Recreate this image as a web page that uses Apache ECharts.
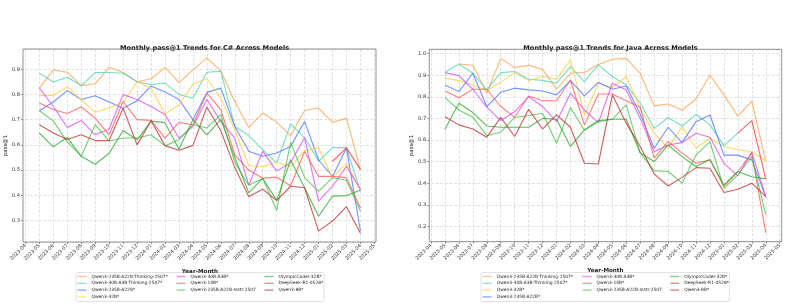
<!DOCTYPE html>
<html><head><meta charset="utf-8">
<script src="https://cdn.jsdelivr.net/npm/echarts@6/dist/echarts.min.js"></script>
<style>html,body{margin:0;padding:0;background:#fff}#c{width:793px;height:308px}</style>
</head><body><div id="c"></div><script>
const months = ['2023-04','2023-05','2023-06','2023-07','2023-08','2023-09','2023-10','2023-11','2023-12',
  '2024-01','2024-02','2024-03','2024-04','2024-05','2024-06','2024-07','2024-08','2024-09','2024-10','2024-11','2024-12',
  '2025-01','2025-02','2025-03','2025-04','2025-05'];

const N_THINK = 'Qwen3-235B-A22B-Thinking-2507*';
const N_THINK30 = 'Qwen3-30B-A3B-Thinking-2507*';
const N_235 = 'Qwen3-235B-A22B*';
const N_32 = 'Qwen3-32B*';
const N_30 = 'Qwen3-30B-A3B*';
const N_14 = 'Qwen3-14B*';
const N_INSTR = 'Qwen3-235B-A22B-Instr-2507';
const N_OLY = 'OlympicCoder-32B*';
const N_DS = 'DeepSeek-R1-0528*';
const N_8 = 'Qwen3-8B*';

// C# values, 2023-05 .. 2025-04
const csThinking = [0.825,0.897,0.888,0.835,0.842,0.908,0.887,0.850,0.862,0.907,0.847,0.897,0.945,0.892,0.772,0.669,0.726,0.690,0.636,0.736,0.746,0.689,0.706,0.502];
const csThinking30 = [0.884,0.849,0.868,0.834,0.887,0.887,0.884,0.851,0.838,0.845,0.800,0.785,0.888,0.892,0.673,0.637,0.581,0.528,0.683,0.628,0.535,0.589,0.589,0.416];
const cs235 = [0.735,0.770,0.815,0.780,0.795,0.770,0.745,0.775,0.833,0.810,0.780,0.700,0.808,0.825,0.673,0.575,0.555,0.568,0.594,0.693,0.540,0.475,0.588,0.258];
const cs32 = [0.795,0.796,0.831,0.779,0.729,0.746,0.768,0.850,0.825,0.722,0.759,0.840,0.862,0.785,0.660,0.518,0.513,0.531,0.513,0.577,0.588,0.470,0.528,0.423];
const cs30 = [0.825,0.752,0.669,0.697,0.640,0.663,0.800,0.780,0.752,0.720,0.627,0.673,0.780,0.693,0.627,0.440,0.575,0.496,0.530,0.628,0.377,0.436,0.515,0.423];
const cs14 = [0.766,0.740,0.724,0.750,0.706,0.640,0.772,0.700,0.697,0.627,0.689,0.680,0.805,0.740,0.560,0.500,0.468,0.472,0.438,0.574,0.475,0.475,0.470,0.350];
const csInstr = [0.735,0.695,0.612,0.555,0.680,0.615,0.627,0.627,0.640,0.596,0.620,0.680,0.667,0.720,0.530,0.440,0.467,0.340,0.610,0.470,0.416,0.470,0.460,0.337];
const csOly = [0.647,0.592,0.630,0.555,0.523,0.567,0.657,0.620,0.694,0.688,0.583,0.700,0.640,0.700,0.550,0.410,0.468,0.380,0.540,0.430,0.317,0.397,0.399,0.420];
const csDS = [null,null,null,null,null,null,null,null,null,null,null,null,null,null,null,null,null,null,null,null,null,0.535,0.588,0.502];
const cs8 = [0.680,0.647,0.621,0.640,0.617,0.617,0.745,0.600,0.696,0.597,0.579,0.598,0.750,0.656,0.510,0.395,0.424,0.379,0.436,0.430,0.258,0.298,0.355,0.250];

// Java values, 2023-05 .. 2025-04
const jvThinking = [null,0.952,0.946,0.816,0.978,0.935,0.946,0.927,0.835,0.909,0.914,0.950,0.974,0.978,0.909,0.758,0.767,0.739,0.790,0.901,0.809,0.711,0.780,0.503];
const jvThinking30 = [0.914,0.952,0.909,0.832,0.912,0.917,0.881,0.876,0.863,0.940,0.870,0.948,0.894,0.855,0.770,0.654,0.704,0.665,0.719,0.670,0.574,0.632,null,null];
const jv32 = [0.886,0.875,0.855,0.829,0.867,0.912,0.875,0.894,0.881,0.971,0.716,0.863,0.844,0.894,0.747,0.631,0.562,0.662,0.562,0.608,0.570,0.555,0.547,0.503];
const jv235 = [0.855,0.824,0.909,0.755,0.821,0.840,0.832,0.827,0.809,0.875,0.804,0.867,0.835,0.850,0.720,0.562,0.659,0.588,0.685,0.716,0.530,0.530,0.508,0.338];
const jv30 = [0.912,0.898,0.835,0.752,0.690,0.731,0.800,0.755,0.685,0.816,0.739,0.680,0.863,0.832,0.700,0.546,0.577,0.588,0.631,0.613,0.492,0.434,0.544,0.338];
const jv14 = [0.827,0.796,0.835,0.835,0.755,0.705,0.804,0.782,0.782,0.878,0.670,0.813,0.813,0.782,0.752,0.516,0.593,0.539,0.492,0.508,0.385,0.454,0.539,0.170];
const jvInstr = [0.796,0.739,0.705,0.620,0.637,0.705,0.712,0.724,0.585,0.750,0.645,0.685,0.696,0.763,0.540,0.458,0.454,0.400,0.530,0.592,0.376,0.438,0.523,0.253];
const jvOly = [0.650,0.770,0.727,0.665,0.659,0.659,0.659,0.700,0.696,0.570,0.647,0.690,0.696,0.696,0.540,0.500,0.577,0.523,0.477,0.510,0.392,0.454,0.430,0.420];
const jvDS = [null,null,null,null,null,null,null,null,null,null,null,null,null,null,null,null,null,null,null,null,null,0.632,0.690,0.420];
const jv8 = [0.708,0.670,0.651,0.613,0.705,0.616,0.742,0.651,0.716,0.659,0.492,0.489,0.809,0.678,0.570,0.443,0.387,0.427,0.472,0.469,0.357,0.372,0.400,0.338];

const colors = {};
colors[N_THINK] = '#ffa04d';
colors[N_THINK30] = '#52d3b2';
colors[N_235] = '#4d74ff';
colors[N_32] = '#ffcc40';
colors[N_30] = '#d94dff';
colors[N_14] = '#ff5a5a';
colors[N_INSTR] = '#4cc04c';
colors[N_OLY] = '#2ea82e';
colors[N_DS] = '#ff3535';
colors[N_8] = '#c23030';

const csList = [[N_THINK,csThinking],[N_THINK30,csThinking30],[N_235,cs235],[N_32,cs32],[N_30,cs30],[N_14,cs14],[N_INSTR,csInstr],[N_OLY,csOly],[N_DS,csDS],[N_8,cs8]];
const jvList = [[N_THINK,jvThinking],[N_THINK30,jvThinking30],[N_32,jv32],[N_235,jv235],[N_30,jv30],[N_14,jv14],[N_INSTR,jvInstr],[N_OLY,jvOly],[N_DS,jvDS],[N_8,jv8]];

const FONT = 'DejaVu Sans';
const series = [];
function addSeries(list, idx) {
  list.forEach(([name, arr]) => {
    series.push({
      name: name, type: 'line', xAxisIndex: idx, yAxisIndex: idx,
      data: [null].concat(arr).concat([null]),
      symbol: 'none', showSymbol: false, connectNulls: false,
      lineStyle: { width: 1.1, opacity: 0.78, color: colors[name] },
      itemStyle: { color: colors[name], opacity: 0.6 },
      emphasis: { disabled: true }, silent: true
    });
  });
}
addSeries(csList, 0);
addSeries(jvList, 1);

const gridLine = { show: true, lineStyle: { color: '#d6d6d6', width: 0.7, type: [3, 1.6] } };
function xAxisCfg(gi) {
  return {
    type: 'category', gridIndex: gi, data: months, boundaryGap: false,
    name: 'Year-Month', nameLocation: 'middle', nameGap: 21,
    nameTextStyle: { fontFamily: FONT, fontSize: 5.6, color: '#222', fontWeight: 'bold' },
    axisLine: { show: false },
    axisTick: { show: true, length: 2, interval: 0, lineStyle: { color: '#444', width: 0.6 } },
    axisLabel: { interval: 0, rotate: 45, fontFamily: FONT, fontSize: 4.9, color: '#333', margin: 3 },
    splitLine: Object.assign({ interval: 0 }, gridLine)
  };
}
function yAxisCfg(gi, mn, mx, off) {
  return {
    type: 'value', gridIndex: gi, min: mn, max: mx, splitNumber: 8, minInterval: 0.1, maxInterval: 0.1,
    offset: off,
    name: 'pass@1', nameLocation: 'middle', nameGap: 13, nameRotate: 90,
    nameTextStyle: { fontFamily: FONT, fontSize: 5.4, color: '#222' },
    axisLine: { show: false },
    axisTick: { show: true, length: 2, lineStyle: { color: '#444', width: 0.6 } },
    axisLabel: { showMinLabel: false, showMaxLabel: false, fontFamily: FONT, fontSize: 5.2, color: '#333', margin: 3,
      formatter: v => v.toFixed(1) },
    splitLine: gridLine
  };
}

function legendCol(names, left) {
  return {
    data: names, orient: 'vertical', left: left, top: 274, padding: 0,
    icon: 'rect', itemWidth: 9, itemHeight: 1.4, itemGap: 1.8, selectedMode: false,
    textStyle: { fontFamily: FONT, fontSize: 4.4, color: '#222', lineHeight: 5 }
  };
}

const option = {
  animation: false,
  backgroundColor: '#ffffff',
  title: [
    { text: 'Monthly pass@1 Trends for C# Across Models', left: 199.5, top: 40, textAlign: 'center',
      textStyle: { fontFamily: FONT, fontSize: 6.6, fontWeight: 'bold', color: '#111' } },
    { text: 'Monthly pass@1 Trends for Java Across Models', left: 605.5, top: 40, textAlign: 'center',
      textStyle: { fontFamily: FONT, fontSize: 6.6, fontWeight: 'bold', color: '#111' } }
  ],
  grid: [
    { left: 25.4, top: 49, width: 349, height: 193, containLabel: false },
    { left: 431, top: 49.3, width: 348.7, height: 192.4, containLabel: false }
  ],
  xAxis: [xAxisCfg(0), xAxisCfg(1)],
  yAxis: [yAxisCfg(0, 0.215, 0.98, 2.4), yAxisCfg(1, 0.129, 1.02, 1.7)],
  legend: [
    legendCol([N_THINK, N_THINK30, N_235, N_32], 77.5),
    legendCol([N_30, N_14, N_INSTR], 176.5),
    legendCol([N_OLY, N_DS, N_8], 264.5),
    legendCol([N_THINK, N_THINK30, N_32, N_235], 482.7),
    legendCol([N_30, N_14, N_INSTR], 582.5),
    legendCol([N_OLY, N_DS, N_8], 670.2)
  ],
  graphic: [
    { type: 'rect', shape: { x: 23, y: 49, width: 353, height: 193 }, silent: true, z: 10,
      style: { fill: 'none', stroke: '#777', lineWidth: 0.8 } },
    { type: 'rect', shape: { x: 429.3, y: 49.3, width: 352.4, height: 192.4 }, silent: true, z: 10,
      style: { fill: 'none', stroke: '#777', lineWidth: 0.8 } },
    { type: 'rect', shape: { x: 76, y: 272.5, width: 248, height: 29, r: 1.5 }, silent: true, z: -1,
      style: { fill: '#fff', stroke: '#d4d4d4', lineWidth: 0.7 } },
    { type: 'rect', shape: { x: 481, y: 272.5, width: 248.3, height: 29, r: 1.5 }, silent: true, z: -1,
      style: { fill: '#fff', stroke: '#d4d4d4', lineWidth: 0.7 } }
  ],
  series: series
};

const chart = echarts.init(document.getElementById('c'), null, { renderer: 'canvas' });
chart.setOption(option);
</script></body></html>
